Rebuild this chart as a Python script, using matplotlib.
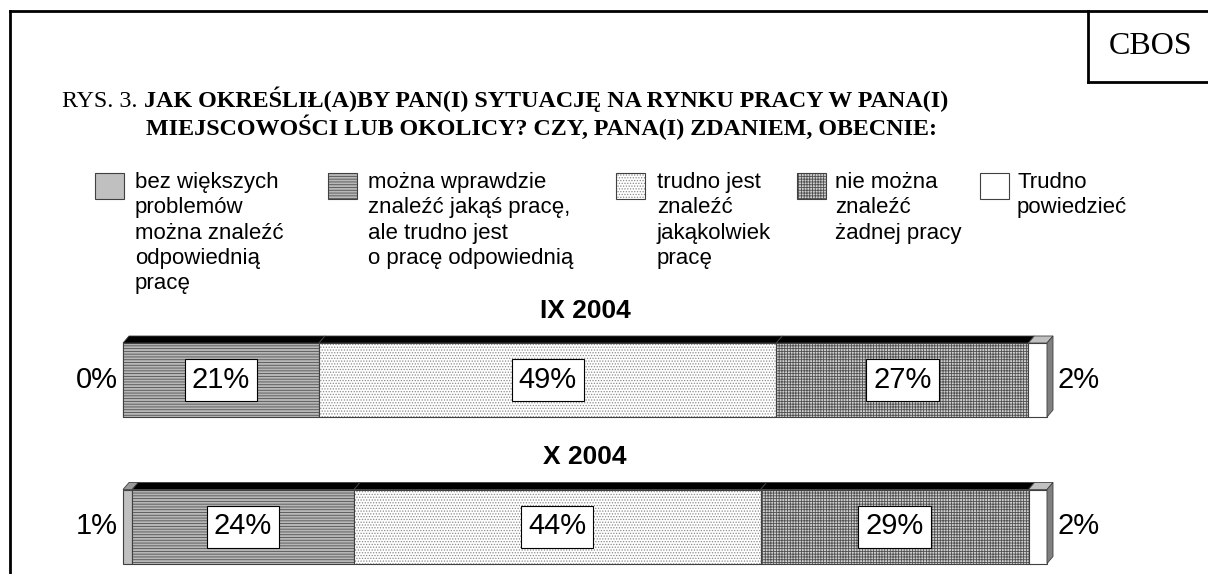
import matplotlib
matplotlib.use("Agg")
import matplotlib.pyplot as plt
from matplotlib.patches import Polygon, Rectangle
from matplotlib.lines import Line2D
import numpy as np

# ---------------- data ----------------
periods = ["IX 2004", "X 2004"]
categories = [
    "bez większych\nproblemów\nmożna znaleźć\nodpowiednią\npracę",
    "można wprawdzie\nznaleźć jakąś pracę,\nale trudno jest\no pracę odpowiednią",
    "trudno jest\nznaleźć\njakąkolwiek\npracę",
    "nie można\nznaleźć\nżadnej pracy",
    "Trudno\npowiedzieć",
]
values_ix = [0, 21, 49, 27, 2]
values_x = [1, 24, 44, 29, 2]
series = [values_ix, values_x]

title_prefix = "RYS. 3. "
title_line1 = "JAK OKREŚLIŁ(A)BY PAN(I) SYTUACJĘ NA RYNKU PRACY W PANA(I)"
title_line2 = "MIEJSCOWOŚCI LUB OKOLICY? CZY, PANA(I) ZDANIEM, OBECNIE:"
source = "CBOS"

# ---------------- styles ----------------
face_colors = ["#c0c0c0", "#b8b8b8", "#ffffff", "#d0d0d0", "#ffffff"]
hatch_colors = ["#c0c0c0", "#505050", "#8a8a8a", "#505050", "#ffffff"]
hatches = [None, "------", "......", "++++++", None]
top_colors = ["#9a9a9a", "#000000", "#000000", "#000000", "#c0c0c0"]
side_color = "#808080"
edge = "#404040"

plt.rcParams["hatch.linewidth"] = 0.6
SANS = "Liberation Sans"
SERIF = "Liberation Serif"

W, H = 1208, 574
fig = plt.figure(figsize=(W / 100, H / 100), dpi=100)

def fx(px):
    return px / W

def fy(py):
    return 1 - py / H

# ---------------- frame ----------------
lw_frame = 2.0
fig.add_artist(Line2D([fx(10), 1], [fy(11), fy(11)], color="black", lw=lw_frame, transform=fig.transFigure))
fig.add_artist(Line2D([fx(10), fx(10)], [fy(11), 0], color="black", lw=lw_frame, transform=fig.transFigure))
fig.add_artist(Line2D([fx(1088), fx(1088)], [fy(11), fy(82)], color="black", lw=lw_frame, transform=fig.transFigure))
fig.add_artist(Line2D([fx(1088), 1], [fy(82), fy(82)], color="black", lw=lw_frame, transform=fig.transFigure))
fig.text(fx(1151), fy(47), source, family=SERIF, fontsize=23, ha="center", va="center")

# ---------------- title ----------------
TFS = 17.3
t0 = fig.text(fx(62), fy(107), title_prefix, family=SERIF, fontsize=TFS, ha="left", va="baseline")
fig.canvas.draw()
bb = t0.get_window_extent()
fig.text(bb.x1 / W, fy(107), title_line1, family=SERIF, fontsize=TFS, fontweight="bold",
         ha="left", va="baseline")
fig.text(fx(146), fy(135), title_line2, family=SERIF, fontsize=TFS, fontweight="bold",
         ha="left", va="baseline")

# ---------------- legend ----------------
patch_left = [95, 328, 616, 797, 980]
text_left = [135, 368, 657, 835, 1017]
for i, cat in enumerate(categories):
    x0 = fx(patch_left[i])
    r = Rectangle((x0, fy(199)), fx(29), 26 / H, transform=fig.transFigure,
                  facecolor=face_colors[i], edgecolor=hatch_colors[i], hatch=hatches[i], lw=0)
    fig.add_artist(r)
    r2 = Rectangle((x0, fy(199)), fx(29), 26 / H, transform=fig.transFigure,
                   fill=False, edgecolor=edge, lw=0.8)
    fig.add_artist(r2)
    fig.text(fx(text_left[i]), fy(172), cat, family=SANS, fontsize=16, ha="left", va="top",
             linespacing=1.27)

# ---------------- bars ----------------
ax = fig.add_axes([fx(123), 0, fx(1047) - fx(123), 1])
ax.set_xlim(0, 100)
PX_CENTER_X = 526.5
PX_STEP = 146.5
ax.set_ylim((PX_CENTER_X - H) / PX_STEP, PX_CENTER_X / PX_STEP)
ax.axis("off")

bar_h = 74 / PX_STEP
dx = 6 / ((1047 - 123) / 100)
dy = 7 / PX_STEP
ypos = [1, 0]

for yi, vals in zip(ypos, series):
    vals = np.array(vals, dtype=float)
    widths = vals / vals.sum() * 100
    lefts = np.concatenate([[0], np.cumsum(widths)[:-1]])
    yt = yi + bar_h / 2
    yb = yi - bar_h / 2
    for j in range(len(vals)):
        ax.barh(yi, widths[j], left=lefts[j], height=bar_h, color=face_colors[j],
                edgecolor=hatch_colors[j], hatch=hatches[j], linewidth=0, clip_on=False)
        ax.barh(yi, widths[j], left=lefts[j], height=bar_h, fill=False,
                edgecolor=edge, linewidth=0.8, clip_on=False)
        if widths[j] > 0:
            x0, x1 = lefts[j], lefts[j] + widths[j]
            ax.add_patch(Polygon([(x0, yt), (x1, yt), (x1 + dx, yt + dy), (x0 + dx, yt + dy)],
                                 closed=True, facecolor=top_colors[j], edgecolor=edge, lw=0.6,
                                 clip_on=False))
    # right side face
    xe = lefts[-1] + widths[-1]
    ax.add_patch(Polygon([(xe, yb), (xe, yt), (xe + dx, yt + dy), (xe + dx, yb + dy)],
                         closed=True, facecolor=side_color, edgecolor=edge, lw=0.6, clip_on=False))
    # labels
    for j in range(len(vals)):
        lab = f"{int(vals[j])}%"
        if j == 0:
            ax.text(-0.6, yi, lab, family=SANS, fontsize=21, ha="right", va="center")
        elif j == len(vals) - 1:
            ax.text(xe + dx + 0.5, yi, lab, family=SANS, fontsize=21, ha="left", va="center")
        else:
            ax.text(lefts[j] + widths[j] / 2, yi, lab, family=SANS, fontsize=21,
                    ha="center", va="center",
                    bbox=dict(boxstyle="square,pad=0.24", fc="white", ec="black", lw=0.8))

for yi, per in zip(ypos, periods):
    ax.text(50, yi + bar_h / 2 + 0.22, per, family=SANS, fontsize=19, fontweight="bold",
            ha="center", va="center")

fig.savefig("out.png", dpi=100)
